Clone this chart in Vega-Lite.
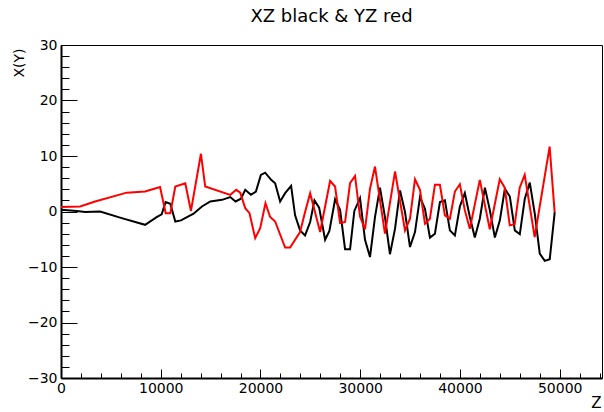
{
  "$schema": "https://vega.github.io/schema/vega-lite/v6.json",
  "width": 541,
  "height": 333,
  "autosize": {"type": "none"},
  "padding": {"left": 61, "top": 45, "right": 2, "bottom": 34},
  "background": "white",
  "title": {
    "text": "XZ black & YZ red",
    "font": "DejaVu Sans",
    "fontSize": 18,
    "fontWeight": "normal",
    "color": "black",
    "anchor": "middle",
    "baseline": "alphabetic",
    "offset": 19,
    "dy": 21
  },
  "config": {
    "view": {"stroke": "black", "strokeWidth": 1},
    "axis": {
      "grid": false,
      "domainColor": "black",
      "domainWidth": 2,
      "tickColor": "black",
      "tickWidth": 1,
      "labelColor": "black",
      "labelFont": "DejaVu Sans",
      "labelFontSize": 14,
      "titleColor": "black",
      "titleFont": "DejaVu Sans",
      "titleFontWeight": "normal",
      "titleFontSize": 14,
      "labelOverlap": false,
      "labelFlush": false,
      "labelBound": false
    }
  },
  "data": {
    "values": [
      {"z": 0, "v": 0.3, "s": "XZ"},
      {"z": 1580, "v": 0.1, "s": "XZ"},
      {"z": 2420, "v": -0.1, "s": "XZ"},
      {"z": 3920, "v": 0.0, "s": "XZ"},
      {"z": 6090, "v": -1.2, "s": "XZ"},
      {"z": 8430, "v": -2.4, "s": "XZ"},
      {"z": 9590, "v": -1.0, "s": "XZ"},
      {"z": 10090, "v": -0.5, "s": "XZ"},
      {"z": 10490, "v": 1.7, "s": "XZ"},
      {"z": 10960, "v": 1.4, "s": "XZ"},
      {"z": 11460, "v": -1.8, "s": "XZ"},
      {"z": 12030, "v": -1.6, "s": "XZ"},
      {"z": 13290, "v": -0.4, "s": "XZ"},
      {"z": 14130, "v": 0.9, "s": "XZ"},
      {"z": 14970, "v": 1.8, "s": "XZ"},
      {"z": 16140, "v": 2.1, "s": "XZ"},
      {"z": 16970, "v": 2.6, "s": "XZ"},
      {"z": 17500, "v": 1.8, "s": "XZ"},
      {"z": 18040, "v": 2.3, "s": "XZ"},
      {"z": 18470, "v": 3.9, "s": "XZ"},
      {"z": 19040, "v": 3.0, "s": "XZ"},
      {"z": 19540, "v": 3.6, "s": "XZ"},
      {"z": 20040, "v": 6.6, "s": "XZ"},
      {"z": 20470, "v": 7.0, "s": "XZ"},
      {"z": 21070, "v": 5.7, "s": "XZ"},
      {"z": 21470, "v": 5.1, "s": "XZ"},
      {"z": 21970, "v": 1.8, "s": "XZ"},
      {"z": 22470, "v": 3.3, "s": "XZ"},
      {"z": 23070, "v": 4.6, "s": "XZ"},
      {"z": 23470, "v": -0.7, "s": "XZ"},
      {"z": 23970, "v": -3.4, "s": "XZ"},
      {"z": 24470, "v": -4.3, "s": "XZ"},
      {"z": 24980, "v": -1.9, "s": "XZ"},
      {"z": 25410, "v": 2.0, "s": "XZ"},
      {"z": 25880, "v": 0.7, "s": "XZ"},
      {"z": 26480, "v": -5.1, "s": "XZ"},
      {"z": 26910, "v": -3.5, "s": "XZ"},
      {"z": 27480, "v": 2.2, "s": "XZ"},
      {"z": 27980, "v": 0.3, "s": "XZ"},
      {"z": 28480, "v": -6.8, "s": "XZ"},
      {"z": 28980, "v": -6.8, "s": "XZ"},
      {"z": 29410, "v": 0.1, "s": "XZ"},
      {"z": 29980, "v": 2.4, "s": "XZ"},
      {"z": 30480, "v": -5.1, "s": "XZ"},
      {"z": 30980, "v": -8.2, "s": "XZ"},
      {"z": 31480, "v": -1.0, "s": "XZ"},
      {"z": 31980, "v": 4.3, "s": "XZ"},
      {"z": 32480, "v": -1.0, "s": "XZ"},
      {"z": 32980, "v": -7.7, "s": "XZ"},
      {"z": 33490, "v": -3.1, "s": "XZ"},
      {"z": 33990, "v": 3.8, "s": "XZ"},
      {"z": 34490, "v": -0.1, "s": "XZ"},
      {"z": 34990, "v": -6.4, "s": "XZ"},
      {"z": 35490, "v": -3.7, "s": "XZ"},
      {"z": 35990, "v": 2.6, "s": "XZ"},
      {"z": 36490, "v": 0.5, "s": "XZ"},
      {"z": 36990, "v": -4.7, "s": "XZ"},
      {"z": 37490, "v": -4.0, "s": "XZ"},
      {"z": 37990, "v": 1.7, "s": "XZ"},
      {"z": 38490, "v": 2.0, "s": "XZ"},
      {"z": 38990, "v": -3.4, "s": "XZ"},
      {"z": 39490, "v": -4.3, "s": "XZ"},
      {"z": 39990, "v": 0.9, "s": "XZ"},
      {"z": 40490, "v": 3.3, "s": "XZ"},
      {"z": 40990, "v": -1.0, "s": "XZ"},
      {"z": 41490, "v": -4.7, "s": "XZ"},
      {"z": 41990, "v": -1.3, "s": "XZ"},
      {"z": 42500, "v": 4.3, "s": "XZ"},
      {"z": 43000, "v": 0.2, "s": "XZ"},
      {"z": 43500, "v": -4.7, "s": "XZ"},
      {"z": 44000, "v": -1.6, "s": "XZ"},
      {"z": 44500, "v": 4.1, "s": "XZ"},
      {"z": 45000, "v": 2.7, "s": "XZ"},
      {"z": 45500, "v": -3.4, "s": "XZ"},
      {"z": 46000, "v": -4.1, "s": "XZ"},
      {"z": 46500, "v": 2.3, "s": "XZ"},
      {"z": 47000, "v": 5.2, "s": "XZ"},
      {"z": 47500, "v": -0.4, "s": "XZ"},
      {"z": 48000, "v": -7.6, "s": "XZ"},
      {"z": 48500, "v": -8.9, "s": "XZ"},
      {"z": 49000, "v": -8.6, "s": "XZ"},
      {"z": 49500, "v": -0.1, "s": "XZ"},
      {"z": 0, "v": 0.8, "s": "YZ"},
      {"z": 1920, "v": 0.9, "s": "YZ"},
      {"z": 3420, "v": 1.8, "s": "YZ"},
      {"z": 6590, "v": 3.4, "s": "YZ"},
      {"z": 8430, "v": 3.6, "s": "YZ"},
      {"z": 9930, "v": 4.4, "s": "YZ"},
      {"z": 10500, "v": -0.3, "s": "YZ"},
      {"z": 10960, "v": -0.3, "s": "YZ"},
      {"z": 11460, "v": 4.5, "s": "YZ"},
      {"z": 12460, "v": 5.1, "s": "YZ"},
      {"z": 13030, "v": 0.1, "s": "YZ"},
      {"z": 14030, "v": 10.4, "s": "YZ"},
      {"z": 14460, "v": 4.5, "s": "YZ"},
      {"z": 16970, "v": 3.0, "s": "YZ"},
      {"z": 17570, "v": 3.9, "s": "YZ"},
      {"z": 17970, "v": 3.4, "s": "YZ"},
      {"z": 18470, "v": 0.6, "s": "YZ"},
      {"z": 18900, "v": -0.3, "s": "YZ"},
      {"z": 19470, "v": -4.8, "s": "YZ"},
      {"z": 19970, "v": -3.0, "s": "YZ"},
      {"z": 20500, "v": 1.5, "s": "YZ"},
      {"z": 20970, "v": -1.0, "s": "YZ"},
      {"z": 21470, "v": -1.8, "s": "YZ"},
      {"z": 22470, "v": -6.5, "s": "YZ"},
      {"z": 22970, "v": -6.5, "s": "YZ"},
      {"z": 23970, "v": -3.7, "s": "YZ"},
      {"z": 24470, "v": -0.1, "s": "YZ"},
      {"z": 24980, "v": 3.3, "s": "YZ"},
      {"z": 25980, "v": -3.7, "s": "YZ"},
      {"z": 26980, "v": 5.5, "s": "YZ"},
      {"z": 27480, "v": 4.5, "s": "YZ"},
      {"z": 27980, "v": -2.1, "s": "YZ"},
      {"z": 28480, "v": -1.9, "s": "YZ"},
      {"z": 28980, "v": 5.1, "s": "YZ"},
      {"z": 29480, "v": 6.4, "s": "YZ"},
      {"z": 29980, "v": -0.9, "s": "YZ"},
      {"z": 30480, "v": -3.2, "s": "YZ"},
      {"z": 30980, "v": 4.1, "s": "YZ"},
      {"z": 31480, "v": 8.1, "s": "YZ"},
      {"z": 32480, "v": -4.0, "s": "YZ"},
      {"z": 33490, "v": 7.2, "s": "YZ"},
      {"z": 34490, "v": -3.4, "s": "YZ"},
      {"z": 34990, "v": -1.3, "s": "YZ"},
      {"z": 35490, "v": 5.8, "s": "YZ"},
      {"z": 35990, "v": 3.9, "s": "YZ"},
      {"z": 36490, "v": -2.2, "s": "YZ"},
      {"z": 36990, "v": -1.3, "s": "YZ"},
      {"z": 37490, "v": 4.8, "s": "YZ"},
      {"z": 37990, "v": 4.8, "s": "YZ"},
      {"z": 38490, "v": -0.7, "s": "YZ"},
      {"z": 38990, "v": -1.3, "s": "YZ"},
      {"z": 39490, "v": 3.6, "s": "YZ"},
      {"z": 39990, "v": 4.9, "s": "YZ"},
      {"z": 40490, "v": 0.2, "s": "YZ"},
      {"z": 40990, "v": -3.1, "s": "YZ"},
      {"z": 41990, "v": 5.7, "s": "YZ"},
      {"z": 42990, "v": -3.2, "s": "YZ"},
      {"z": 43990, "v": 5.8, "s": "YZ"},
      {"z": 44490, "v": 4.3, "s": "YZ"},
      {"z": 44990, "v": -2.5, "s": "YZ"},
      {"z": 45490, "v": -2.3, "s": "YZ"},
      {"z": 45990, "v": 4.3, "s": "YZ"},
      {"z": 46490, "v": 6.6, "s": "YZ"},
      {"z": 47490, "v": -4.6, "s": "YZ"},
      {"z": 48990, "v": 11.7, "s": "YZ"},
      {"z": 49490, "v": -0.1, "s": "YZ"}
    ]
  },
  "mark": {"type": "line", "strokeWidth": 2, "clip": true},
  "encoding": {
    "x": {
      "field": "z",
      "type": "quantitative",
      "scale": {"domain": [0, 54240], "nice": false, "zero": false},
      "axis": {
        "title": "Z",
        "titleFontSize": 15,
        "titleAnchor": null,
        "titleAlign": "right",
        "titleBaseline": "alphabetic",
        "titleX": 540,
        "titleY": 29,
        "values": [0, 2000, 4000, 6000, 8000, 10000, 12000, 14000, 16000, 18000, 20000, 22000, 24000, 26000, 28000, 30000, 32000, 34000, 36000, 38000, 40000, 42000, 44000, 46000, 48000, 50000, 52000, 54000],
        "format": "d",
        "labelExpr": "datum.value % 10000 === 0 ? datum.label : ''",
        "tickSize": {"condition": {"test": "datum.value % 10000 === 0", "value": -9}, "value": -5},
        "labelPadding": 12
      }
    },
    "y": {
      "field": "v",
      "type": "quantitative",
      "scale": {"domain": [-30, 30], "nice": false, "zero": false},
      "axis": {
        "title": "X(Y)",
        "titleFontSize": 14,
        "titleAnchor": null,
        "titleAngle": 270,
        "titleAlign": "right",
        "titleBaseline": "middle",
        "titleX": -42,
        "titleY": 3,
        "values": [-30, -28, -26, -24, -22, -20, -18, -16, -14, -12, -10, -8, -6, -4, -2, 0, 2, 4, 6, 8, 10, 12, 14, 16, 18, 20, 22, 24, 26, 28, 30],
        "format": "d",
        "labelExpr": "datum.value % 10 === 0 ? datum.label : ''",
        "tickSize": {"condition": {"test": "datum.value % 10 === 0", "value": -16}, "value": -8},
        "labelPadding": 20
      }
    },
    "color": {
      "field": "s",
      "type": "nominal",
      "scale": {"domain": ["XZ", "YZ"], "range": ["#000000", "#ff0000"]},
      "legend": null
    }
  }
}
